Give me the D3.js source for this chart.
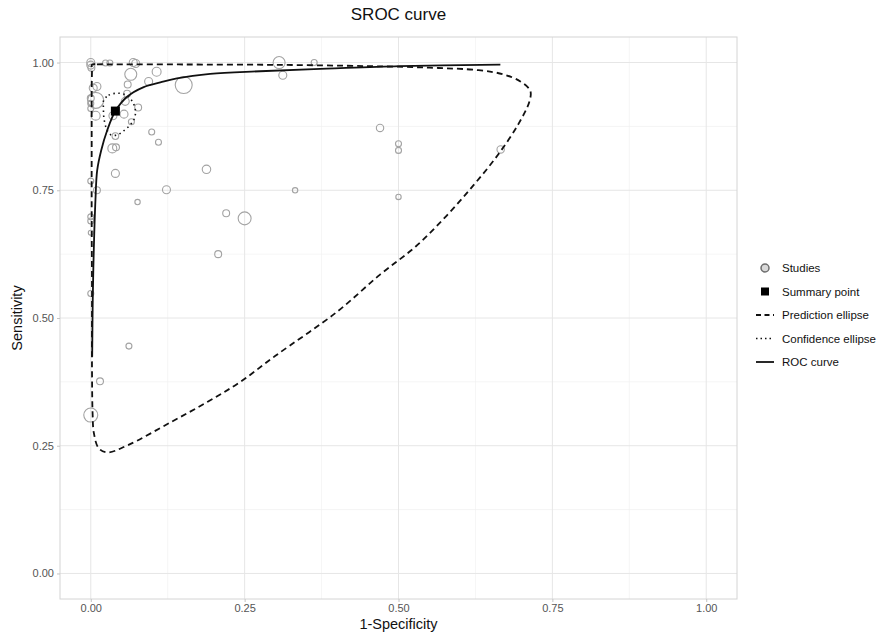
<!DOCTYPE html>
<html>
<head>
<meta charset="utf-8">
<script src="https://cdn.jsdelivr.net/npm/d3@7"></script>
<style>
  body { margin: 0; background: #fff; }
  text { font-family: "Liberation Sans", Arial, sans-serif; }
</style>
</head>
<body>
<div class="chart"></div>
<script>
// SROC curve - studies, summary point, ellipses and ROC curve

// study points: 1-specificity, sensitivity, weight
const studyFpr = [0.000, 0.000, 0.001, 0.024, 0.031, 0.069, 0.073, 0.065, 0.107, 0.060,
                  0.094, 0.151, 0.004, 0.010, 0.008, 0.000, 0.000, 0.000, 0.059, 0.056,
                  0.054, 0.077, 0.036, 0.008, 0.066, 0.040, 0.099, 0.110, 0.035, 0.041,
                  0.040, 0.188, 0.123, 0.010, 0.076, 0.000, 0.000, 0.000, 0.000, 0.000,
                  0.062, 0.015, 0.000, 0.220, 0.250, 0.207, 0.332, 0.306, 0.312, 0.363,
                  0.470, 0.500, 0.500, 0.666, 0.500];
const studySens = [1.000, 0.995, 0.990, 0.999, 0.999, 1.000, 0.998, 0.977, 0.982, 0.957,
                   0.963, 0.956, 0.950, 0.953, 0.926, 0.930, 0.920, 0.910, 0.939, 0.924,
                   0.899, 0.912, 0.896, 0.896, 0.884, 0.856, 0.864, 0.844, 0.832, 0.834,
                   0.783, 0.791, 0.751, 0.750, 0.727, 0.768, 0.698, 0.690, 0.667, 0.548,
                   0.445, 0.376, 0.310, 0.705, 0.695, 0.625, 0.750, 1.000, 0.975, 1.000,
                   0.872, 0.841, 0.828, 0.830, 0.737];
const studyWeight = [80, 80, 60, 45, 45, 80, 80, 180, 100, 60,
                     80, 360, 80, 80, 320, 60, 45, 45, 60, 80,
                     80, 60, 80, 100, 45, 55, 45, 45, 100, 60,
                     80, 90, 80, 60, 36, 45, 45, 45, 31, 45,
                     45, 60, 245, 60, 210, 60, 36, 180, 80, 45,
                     68, 45, 45, 68, 36];

// summary point
const summaryFpr = 0.040, summarySens = 0.905;

// prediction ellipse (clockwise from top-left)
const predFpr = [0.002, 0.010, 0.050, 0.150, 0.300, 0.450, 0.550, 0.630, 0.670, 0.698,
                 0.714, 0.713, 0.695, 0.662, 0.622, 0.578, 0.528, 0.470, 0.400, 0.300,
                 0.243, 0.190, 0.130, 0.060, 0.027, 0.013, 0.005, 0.003, 0.002, 0.002,
                 0.0015, 0.0015, 0.0015, 0.002];
const predSens = [0.996, 0.9965, 0.9965, 0.9962, 0.9955, 0.993, 0.990, 0.985, 0.977, 0.963,
                  0.945, 0.925, 0.880, 0.820, 0.760, 0.700, 0.640, 0.585, 0.512, 0.426,
                  0.375, 0.336, 0.296, 0.251, 0.237, 0.245, 0.275, 0.312, 0.400, 0.550,
                  0.700, 0.850, 0.950, 0.985];

// confidence ellipse
const confFpr = [0.021, 0.029, 0.043, 0.058, 0.068, 0.0725, 0.071, 0.064, 0.053, 0.042,
                 0.032, 0.0255, 0.0214, 0.0206];
const confSens = [0.926, 0.936, 0.940, 0.936, 0.923, 0.907, 0.891, 0.878, 0.866, 0.858,
                  0.859, 0.871, 0.891, 0.910];

// ROC curve
const rocFpr = [0.0023, 0.0032, 0.0049, 0.0076, 0.0104, 0.0169, 0.0266, 0.040, 0.059, 0.086,
                0.113, 0.140, 0.194, 0.275, 0.3835, 0.502, 0.6655];
const rocSens = [0.424, 0.535, 0.633, 0.731, 0.789, 0.828, 0.867, 0.905, 0.933, 0.952,
                 0.961, 0.969, 0.978, 0.983, 0.988, 0.993, 0.996];

const ticks = [0, 0.25, 0.5, 0.75, 1];
const minorTicks = [0.125, 0.375, 0.625, 0.875];
const legendLabels = ["Studies", "Summary point", "Prediction ellipse", "Confidence ellipse", "ROC curve"];

// svg container size
const width = 882,
      height = 635;
const panel = { left: 60, right: 737, top: 37, bottom: 599 };

const svg = d3.select(".chart")
              .append("svg")
              .attr("width", width)
              .attr("height", height);

// scales with 5% padding like ggplot
const x = d3.scaleLinear().domain([-0.05, 1.05]).range([panel.left, panel.right]);
const y = d3.scaleLinear().domain([-0.05, 1.05]).range([panel.bottom, panel.top]);
const r = d3.scaleSqrt().domain([0, 405]).range([0, 9]);

// grid
const grid = svg.append("g");
grid.selectAll(".minx").data(minorTicks).enter().append("line")
    .attr("x1", d => x(d)).attr("x2", d => x(d))
    .attr("y1", panel.top).attr("y2", panel.bottom)
    .attr("stroke", "#f1f1f1").attr("stroke-width", 0.7);
grid.selectAll(".miny").data(minorTicks).enter().append("line")
    .attr("y1", d => y(d)).attr("y2", d => y(d))
    .attr("x1", panel.left).attr("x2", panel.right)
    .attr("stroke", "#f1f1f1").attr("stroke-width", 0.7);
grid.selectAll(".majx").data(ticks).enter().append("line")
    .attr("x1", d => x(d)).attr("x2", d => x(d))
    .attr("y1", panel.top).attr("y2", panel.bottom)
    .attr("stroke", "#e6e6e6").attr("stroke-width", 1);
grid.selectAll(".majy").data(ticks).enter().append("line")
    .attr("y1", d => y(d)).attr("y2", d => y(d))
    .attr("x1", panel.left).attr("x2", panel.right)
    .attr("stroke", "#e6e6e6").attr("stroke-width", 1);

// panel border
svg.append("rect")
   .attr("x", panel.left).attr("y", panel.top)
   .attr("width", panel.right - panel.left).attr("height", panel.bottom - panel.top)
   .attr("fill", "none").attr("stroke", "#d4d4d4").attr("stroke-width", 1);

// axes
const xAxis = svg.append("g")
   .attr("transform", `translate(0,${panel.bottom})`)
   .call(d3.axisBottom(x).tickValues(ticks).tickFormat(d3.format(".2f")).tickSize(3).tickPadding(2));
const yAxis = svg.append("g")
   .attr("transform", `translate(${panel.left},0)`)
   .call(d3.axisLeft(y).tickValues(ticks).tickFormat(d3.format(".2f")).tickSize(3).tickPadding(3));
[xAxis, yAxis].forEach(a => {
  a.select(".domain").remove();
  a.selectAll(".tick line").attr("stroke", "#c4c4c4");
  a.selectAll(".tick text").attr("fill", "#555555")
   .style("font-size", "11px").style("font-family", "Liberation Sans, Arial, sans-serif");
});

// studies
const studies = studyFpr.map((f, i) => ({ f: f, s: studySens[i], w: studyWeight[i] }));
svg.append("g").selectAll("circle")
   .data(studies).enter().append("circle")
   .attr("cx", d => x(d.f))
   .attr("cy", d => y(d.s))
   .attr("r", d => r(d.w))
   .attr("fill", "none")
   .attr("stroke", "#a3a3a3")
   .attr("stroke-width", 1.1);

// prediction ellipse
const pred = predFpr.map((f, i) => [x(f), y(predSens[i])]);
svg.append("path")
   .attr("d", d3.line().curve(d3.curveCatmullRomClosed)(pred))
   .attr("fill", "none").attr("stroke", "#111")
   .attr("stroke-width", 1.8).attr("stroke-dasharray", "6,4");

// confidence ellipse
const conf = confFpr.map((f, i) => [x(f), y(confSens[i])]);
svg.append("path")
   .attr("d", d3.line().curve(d3.curveCatmullRomClosed)(conf))
   .attr("fill", "none").attr("stroke", "#111")
   .attr("stroke-width", 1.6).attr("stroke-dasharray", "1.5,3.5");

// ROC curve
const roc = rocFpr.map((f, i) => [x(f), y(rocSens[i])]);
svg.append("path")
   .attr("d", d3.line().curve(d3.curveCatmullRom)(roc))
   .attr("fill", "none").attr("stroke", "#111")
   .attr("stroke-width", 1.8);

// summary point
svg.append("rect")
   .attr("x", x(summaryFpr) - 4.5).attr("y", y(summarySens) - 4.5)
   .attr("width", 9).attr("height", 9)
   .attr("fill", "#000");

// titles
svg.append("text")
   .attr("x", (panel.left + panel.right) / 2).attr("y", 20)
   .attr("text-anchor", "middle").style("font-size", "17px").attr("fill", "#111")
   .text("SROC curve");
svg.append("text")
   .attr("x", (panel.left + panel.right) / 2).attr("y", 629)
   .attr("text-anchor", "middle").style("font-size", "14.5px").attr("fill", "#111")
   .text("1-Specificity");
svg.append("text")
   .attr("transform", `translate(22,${(panel.top + panel.bottom) / 2}) rotate(-90)`)
   .attr("text-anchor", "middle").style("font-size", "14.5px").attr("fill", "#111")
   .text("Sensitivity");

// legend
const legend = svg.append("g").attr("transform", "translate(755,268)");
const item = legend.selectAll("g").data(legendLabels).enter().append("g")
   .attr("transform", (d, i) => `translate(0,${i * 23.5})`);
item.append("text")
   .attr("x", 27).attr("y", 4)
   .style("font-size", "11.5px").attr("fill", "#111")
   .text(d => d);
item.each(function (d, i) {
  const g = d3.select(this);
  if (i === 0) {
    g.append("circle").attr("cx", 10).attr("cy", 0).attr("r", 4)
     .attr("fill", "#d9d9d9").attr("stroke", "#6e6e6e").attr("stroke-width", 1.5);
  } else if (i === 1) {
    g.append("rect").attr("x", 6).attr("y", -4).attr("width", 8).attr("height", 8).attr("fill", "#000");
  } else {
    g.append("line").attr("x1", 1).attr("x2", 19).attr("y1", 0).attr("y2", 0)
     .attr("stroke", "#111").attr("stroke-width", i === 3 ? 1.6 : 1.8)
     .attr("stroke-dasharray", i === 2 ? "5,3.5" : i === 3 ? "1.5,3" : null);
  }
});
</script>
</body>
</html>
